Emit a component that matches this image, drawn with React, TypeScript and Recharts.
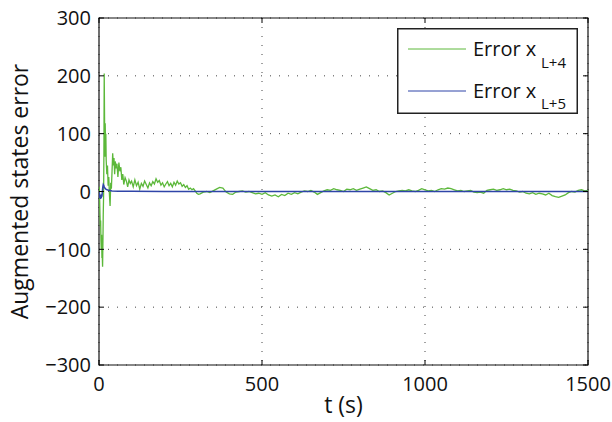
import React from "react";
import { LineChart, Line, XAxis, YAxis, CartesianGrid, ReferenceArea } from "recharts";

// time samples (s) and values
const greenT = [
  0, 1, 2, 3, 4, 5, 6, 7, 8, 9, 10, 11, 12, 13, 14, 15, 16, 17, 18, 19, 20, 21, 22, 24, 26, 28, 30, 32, 34, 36,
  38, 40, 42, 44, 46, 48, 50, 52, 55, 58, 61, 64, 67, 70, 73, 76, 80, 84, 88, 92, 96, 100,
  105, 110, 115, 120, 125, 130, 135, 140, 145, 150, 155, 160, 165, 170, 175, 180, 185, 190, 195, 200,
  205, 210, 215, 220, 225, 230, 235, 240, 245, 250, 255, 260, 265, 270, 275, 280, 285, 290, 295, 300, 305,
  310, 320, 330, 340, 350, 360, 370, 380, 390, 400, 410, 420, 430, 440, 450, 460, 470, 480, 490, 500,
  510, 520, 530, 540, 550, 560, 570, 580, 590, 600, 610, 620, 630, 640, 650, 660, 670, 680, 690, 700,
  710, 720, 730, 740, 750, 760, 770, 780, 790, 800, 810, 820, 830, 840, 850, 860, 870, 880, 890, 900,
  910, 920, 930, 940, 950, 960, 970, 980, 990, 1000, 1010, 1020, 1030, 1040, 1050, 1060, 1070, 1080, 1090, 1100,
  1110, 1120, 1130, 1140, 1150, 1160, 1170, 1180, 1190, 1200, 1210, 1220, 1230, 1240, 1250, 1260, 1270, 1280, 1290, 1300,
  1310, 1320, 1330, 1340, 1350, 1360, 1370, 1380, 1390, 1400, 1410, 1420, 1430, 1440, 1450, 1460, 1470, 1480, 1490, 1500,
];
const greenV = [
  0, 8, -15, -40, -60, -50, -85, -100, -75, -115, -110, -130, -90, -40, -10, 60, 204, 130, 60, 118, 85, 100, 55, 30, 45, 10, 25, -5, -25, 15,
  5, 35, 66, 45, 58, 30, 52, 40, 48, 25, 50, 35, 42, 20, 30, 12, 24, 18, 8, 20, 14, 18,
  8, 20, 10, 16, 4, 14, 9, 18, 12, 6, 15, 10, 17, 13, 22, 16, 19, 11, 15, 8,
  13, 17, 10, 14, 8, 16, 11, 18, 13, 15, 9, 12, 7, 10, 4, 6, 3, 5, 1, -3, -5,
  -4, -1, 0, -2, 1, 4, 7, 6, -1, -4, -5, -1, 0, 1, -1, 0, -2, -4, -3, -5,
  -2, -6, -8, -6, -9, -5, -7, -3, -5, -2, -4, -1, 1, 0, 2, -1, -5, -2, 1, 3,
  2, 5, 3, 2, 0, 4, 3, 5, 2, 4, 6, 8, 5, 2, 3, 0, 1, -2, -6, -3,
  0, 1, 2, 1, 3, 1, 0, 2, 5, 3, 1, 2, 0, 3, 5, 4, 6, 5, 3, 1,
  2, 0, 1, 2, -1, -2, -1, -3, 2, 3, 4, 2, 3, 5, 3, 4, 2, 1, -1, 0,
  -3, -4, -2, -5, -3, -4, -6, -3, -7, -9, -10, -8, -6, -2, 0, -1, 2, 3, 1, 2,
];
const blueT = [0, 1, 2, 3, 4, 5, 6, 7, 8, 9, 10, 11, 12, 13, 14, 16, 18, 21, 25, 30, 40, 60, 100, 200, 1500];
const blueV = [0, -10, -4, -12, -6, -13, -8, -11, -5, -9, -2, 4, 9, 12, 11, 8, 6, 4, 3, 2, 1, 0.5, 0.5, 0, 0];

const xTicks = [0, 500, 1000, 1500];
const yTicks = [-300, -200, -100, 0, 100, 200, 300];
const seriesColors = ["#5cb83a", "#2f44a8"];
const legendSubs = ["L+4", "L+5"];

const greenData = greenT.map((t, i) => ({ t, v: greenV[i] }));
const blueData = blueT.map((t, i) => ({ t, v: blueV[i] }));

const FONT = "'Open Sans', sans-serif";
const PLOT_TOP = 18;
const PLOT_BOTTOM = 365;
const PLOT_LEFT = 99;
const PLOT_RIGHT = 588;

const fmt = (v: number) => String(v).replace("-", "\u2212");

const XTick = (props: any) => {
  const { x, y, payload } = props;
  return (
    <g>
      <line x1={x} x2={x} y1={PLOT_BOTTOM} y2={PLOT_BOTTOM - 5} stroke="#000" />
      <line x1={x} x2={x} y1={PLOT_TOP} y2={PLOT_TOP + 5} stroke="#000" />
      <text x={x} y={y + 24} textAnchor="middle" fontSize={20} fontFamily={FONT} fill="#111">
        {fmt(payload.value)}
      </text>
    </g>
  );
};

const YTick = (props: any) => {
  const { x, y, payload } = props;
  return (
    <g>
      <line x1={PLOT_LEFT} x2={PLOT_LEFT + 5} y1={y} y2={y} stroke="#000" />
      <line x1={PLOT_RIGHT} x2={PLOT_RIGHT - 5} y1={y} y2={y} stroke="#000" />
      <text x={x - 6} y={y} dy="0.36em" textAnchor="end" fontSize={20} fontFamily={FONT} fill="#111">
        {fmt(payload.value)}
      </text>
    </g>
  );
};

// legend box drawn on top of the chart, like the MATLAB one
const LegendBox = () => (
  <svg width={181} height={86} style={{ position: "absolute", left: 397, top: 28, display: "block" }}>
    <rect x={0.75} y={0.75} width={179.5} height={84.5} fill="#fff" stroke="#222" strokeWidth={1.5} />
    {legendSubs.map((sub, i) => (
      <g key={sub}>
        <line x1={11} x2={69} y1={21 + i * 42} y2={21 + i * 42} stroke={seriesColors[i]} strokeWidth={1} />
        <text x={76} y={28 + i * 42} fontSize={20} fontFamily={FONT} fill="#111">
          Error x
        </text>
        <text x={144} y={40 + i * 41} fontSize={15} fontFamily={FONT} fill="#111">
          {sub}
        </text>
      </g>
    ))}
  </svg>
);

export default function App() {
  return (
    <div style={{ position: "absolute", left: 0, top: 0, width: 612, height: 422, background: "#fff" }}>
      <LineChart width={612} height={422} margin={{ top: PLOT_TOP, right: 612 - PLOT_RIGHT, bottom: 0, left: 0 }}>
        <CartesianGrid stroke="#444" strokeDasharray="1 8" />
        <XAxis
          type="number"
          dataKey="t"
          domain={[0, 1500]}
          ticks={xTicks}
          allowDataOverflow
          height={422 - PLOT_BOTTOM}
          tickSize={0}
          tickLine={false}
          axisLine={false}
          tick={<XTick />}
          label={{
            content: ({ viewBox }: any) => (
              <text
                x={viewBox.x + viewBox.width / 2}
                y={PLOT_BOTTOM + 48}
                textAnchor="middle"
                fontSize={23}
                fontFamily={FONT}
                fill="#111"
              >
                t (s)
              </text>
            ),
          }}
        />
        <YAxis
          type="number"
          domain={[-300, 300]}
          ticks={yTicks}
          allowDataOverflow
          width={PLOT_LEFT}
          tickSize={0}
          tickLine={false}
          axisLine={false}
          tick={<YTick />}
          label={{
            content: ({ viewBox }: any) => {
              const cy = viewBox.y + viewBox.height / 2;
              return (
                <text
                  x={28}
                  y={cy}
                  transform={`rotate(-90, 28, ${cy})`}
                  textAnchor="middle"
                  fontSize={23}
                  fontFamily={FONT}
                  fill="#111"
                >
                  Augmented states error
                </text>
              );
            },
          }}
        />
        <Line
          data={greenData}
          dataKey="v"
          name="green"
          stroke={seriesColors[0]}
          strokeWidth={1.3}
          dot={false}
          type="linear"
          isAnimationActive={false}
        />
        <Line
          data={blueData}
          dataKey="v"
          name="blue"
          stroke={seriesColors[1]}
          strokeWidth={1.5}
          dot={false}
          type="linear"
          isAnimationActive={false}
        />
        <ReferenceArea x1={0} x2={1500} y1={-300} y2={300} fill="none" fillOpacity={0} stroke="#111" strokeWidth={1.2} />
      </LineChart>
      <LegendBox />
    </div>
  );
}
